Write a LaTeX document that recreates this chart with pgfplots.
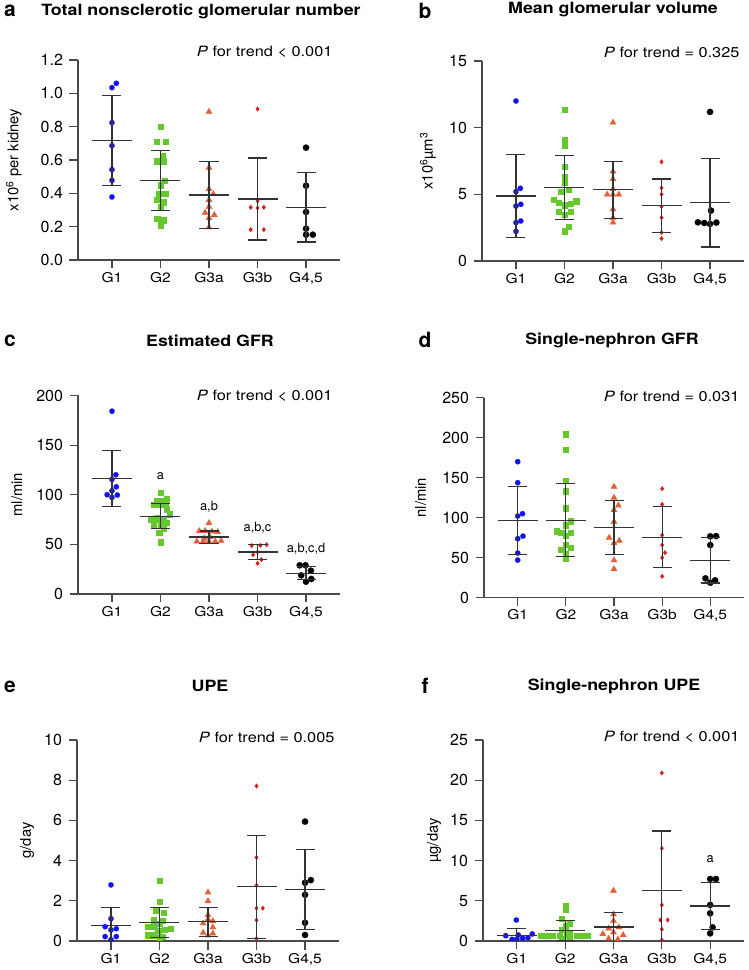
\documentclass[border=0pt]{standalone}
\usepackage{pgfplots}
\usepackage{pgfplotstable}
\pgfplotsset{compat=1.18}
\usepackage{fontspec}
\setmainfont{TeX Gyre Heros}
\newfontfamily\wfont[FakeStretch=1.15]{TeX Gyre Heros}

\definecolor{cB}{HTML}{1212EE}
\definecolor{cG}{HTML}{66C72E}
\definecolor{cO}{HTML}{E0603A}
\definecolor{cR}{HTML}{D81B1B}
\definecolor{cK}{HTML}{000000}
\definecolor{axc}{HTML}{4A4A4A}

\pgfplotsset{
  panel/.style={
    scale only axis, width=262pt, height=200pt, xmin=0.3, xmax=5.7,
    axis lines=left, axis line style={-, axc, line width=1.2pt},
    xtick={1,2,3,4,5}, xticklabels={G1,G2,G3a,G3b,{G4,5}},
    tick align=outside, major tick length=8.5pt, tick style={axc, line width=1.2pt},
    minor tick num=0,
    yticklabel style={font=\fontsize{16}{18}\selectfont, xshift=-3pt},
    xticklabel style={font=\wfont\fontsize{13.5}{15}\selectfont},
    ylabel style={font=\fontsize{14.8}{17}\selectfont, anchor=center},
    clip marker paths=true,
    /pgf/number format/assume math mode=true,
  },
  gA/.style={only marks, mark=*, mark size=2.7pt, mark options={draw=cB, fill=cB, line width=0.1pt}},
  gB/.style={only marks, mark=square*, mark size=2.6pt, mark options={draw=cG, fill=cG, line width=0.1pt}},
  gC/.style={only marks, mark=triangle*, mark size=3.7pt, mark options={draw=cO, fill=cO, line width=0.1pt}},
  gD/.style={only marks, mark=diamond*, mark size=2.4pt, mark options={draw=cR, fill=cR, line width=0.1pt}},
  gE/.style={only marks, mark=*, mark size=3.2pt, mark options={draw=cK, fill=cK, line width=0.1pt}},
  sdbar/.style={black!80, only marks, mark=-, mark size=20pt, mark options={line width=1.1pt, black!80},
    error bars/.cd, y dir=both, y explicit, error bar style={line width=1.1pt, black!80},
    error mark options={rotate=90, mark size=9.5pt, line width=1.1pt, black!80}},
}

\pgfplotstableread{
x m s
1 0.716 0.270
2 0.476 0.181
3 0.390 0.202
4 0.366 0.246
5 0.316 0.208
}\sdA
\pgfplotstableread{
x m s
1 4.875 3.085
2 5.48 2.40
3 5.35 2.14
4 4.13 2.02
5 4.38 3.33
}\sdB
\pgfplotstableread{
x m s
1 116.4 28.5
2 78.5 12.9
3 57.4 6.1
4 42.3 7.4
5 21.1 6.4
}\sdC
\pgfplotstableread{
x m s
1 96.7 42.7
2 96.7 45.6
3 87.5 34.0
4 75.8 38.5
5 46.7 28.3
}\sdD
\pgfplotstableread{
x m s
1 0.78 0.88
2 0.93 0.74
3 0.96 0.72
4 2.70 2.56
5 2.57 1.99
}\sdE
\pgfplotstableread{
x m s
1 0.70 0.83
2 1.29 1.29
3 1.74 1.82
4 6.26 7.42
5 4.35 2.95
}\sdF

\begin{document}
\begin{tikzpicture}
\path[use as bounding box] (0pt,0pt) rectangle (748pt,970pt);

% ---------------- panel a
\begin{axis}[panel, at={(78pt,710pt)}, anchor=south west,
  ymin=0, ymax=1.2, ytick={0,0.2,0.4,0.6,0.8,1.0,1.2},
  yticklabel style={/pgf/number format/.cd, fixed, fixed zerofill, precision=1},
  ylabel={x10\textsuperscript{6} per kidney},
  ylabel style={at={(axis description cs:-0.245,0.5)}}]
\addplot[gA] coordinates {(1,1.034) (1.09,1.06) (1,0.824) (1,0.686) (1,0.542) (1,0.478) (1,0.378)};
\addplot[gB] coordinates {(2,0.80) (1.92,0.712) (2.1,0.712) (1.92,0.594) (2.06,0.594) (2.05,0.626) (2.08,0.478) (2,0.45) (2.11,0.40) (1.97,0.40) (1.93,0.364) (2.06,0.348) (2,0.318) (1.93,0.248) (2.07,0.24) (2,0.21)};
\addplot[gC] coordinates {(3,0.89) (3,0.554) (3,0.426) (3.09,0.396) (3,0.36) (3,0.32) (2.92,0.284) (3.11,0.27) (3,0.252) (3,0.196)};
\addplot[gD] coordinates {(4,0.906) (4,0.354) (3.86,0.316) (4,0.312) (4.13,0.316) (3.86,0.182) (4.13,0.182)};
\addplot[gE] coordinates {(5,0.674) (5,0.446) (5,0.288) (5,0.188) (5,0.152) (5.14,0.152)};
\addplot[sdbar] table[x=x, y=m, y error=s] {\sdA};
\end{axis}

% ---------------- panel b
\begin{axis}[panel, at={(482pt,709pt)}, anchor=south west,
  ymin=0, ymax=15, ytick={0,5,10,15},
  ylabel={x10\textsuperscript{6}µm\textsuperscript{3}},
  ylabel style={at={(axis description cs:-0.206,0.5)}}]
\addplot[gA] coordinates {(1,12.0) (1.09,5.45) (1,5.2) (1.1,4.25) (1,4.12) (1.1,3.0) (1,2.88) (1,2.22)};
\addplot[gB] coordinates {(2,11.33) (2,9.12) (2,8.68) (2,7.08) (2,6.33) (2,5.88) (2.08,5.38) (1.93,5.2) (1.77,4.63) (2.24,4.5) (1.88,4.38) (2.12,4.33) (2,4.2) (1.88,3.7) (2.12,3.7) (2,3.5) (2.08,2.58) (2,2.25)};
\addplot[gC] coordinates {(3,10.38) (3,6.72) (3,6.15) (3,5.4) (2.88,4.98) (3,4.98) (3.12,4.98) (3,3.88) (3,3.25) (3,2.88)};
\addplot[gD] coordinates {(4,7.43) (4,5.48) (4,5.0) (4,4.08) (4,3.25) (4,2.13) (4,1.68)};
\addplot[gE] coordinates {(5,11.18) (5.02,3.78) (4.75,2.9) (4.88,2.85) (5,2.78) (5.13,2.88)};
\addplot[sdbar] table[x=x, y=m, y error=s] {\sdB};
\end{axis}

% ---------------- panel c
\begin{axis}[panel, at={(78pt,376pt)}, anchor=south west, height=198.5pt,
  ymin=0, ymax=200, ytick={0,50,100,150,200},
  ylabel={ml/min},
  ylabel style={at={(axis description cs:-0.233,0.5)}}]
\addplot[gA] coordinates {(1,184.2) (1.08,120.1) (1,115.4) (1.09,108) (1,104) (0.9,100) (1.11,99.7) (1,97.3)};
\addplot[gB] coordinates {(2,102.3) (2.12,96) (1.92,94) (2.02,94) (1.86,90) (1.97,90) (2.11,90) (2.12,85.5) (2.18,80.5) (1.92,77) (1.8,75) (1.92,75) (2.06,75) (2.12,72) (1.86,70) (2,70) (2.06,66) (1.97,62) (2,52.3)};
\addplot[gC] coordinates {(3,71.5) (2.8,63.5) (2.92,63.5) (3.06,63) (3.18,62.5) (3.02,57.5) (2.9,56) (2.75,53) (2.88,53) (3.0,53) (3.13,53) (3.25,53.5)};
\addplot[gD] coordinates {(3.88,48.7) (4.06,49) (4.19,49.7) (4,42.3) (3.91,39.6) (4.08,34.6) (4,30.9)};
\addplot[gE] coordinates {(4.87,28.9) (4.99,28.9) (5.1,23.5) (4.9,18.8) (5.11,15.1) (5,12.4)};
\addplot[sdbar] table[x=x, y=m, y error=s] {\sdC};
\node[font=\fontsize{12.8}{15}\selectfont] at (axis cs:2,118.5) {a};
\node[font=\fontsize{12.8}{15}\selectfont] at (axis cs:3,88.3) {a,b};
\node[font=\fontsize{12.8}{15}\selectfont] at (axis cs:4,66.4) {a,b,c};
\node[font=\fontsize{12.8}{15}\selectfont] at (axis cs:5,45.3) {a,b,c,d};
\end{axis}

% ---------------- panel d
\begin{axis}[panel, at={(484pt,372.3pt)}, anchor=south west, width=260pt,
  ymin=0, ymax=250, ytick={0,50,100,150,200,250},
  ylabel={nl/min},
  ylabel style={at={(axis description cs:-0.244,0.5)}}]
\addplot[gA] coordinates {(1,170) (1,143.75) (1.1,105) (1,102) (1.11,77) (1,73.75) (1,55.8) (1,47)};
\addplot[gB] coordinates {(2,204.6) (2,185.4) (2,146.25) (2,133.3) (2,112) (2.09,95.8) (2,90.8) (1.8,83.3) (1.9,81.25) (2.09,81.25) (2,78) (2,66.7) (2.09,62.9) (1.9,60.4) (2,54.6) (2,48.75)};
\addplot[gC] coordinates {(3,138.75) (3,125) (3.09,115.4) (3,109.6) (3,95) (2.9,75) (3.11,71.25) (3,68.3) (3,46.7) (3,35.8)};
\addplot[gD] coordinates {(4,136.25) (4,116.7) (4,78.3) (4,65.8) (4.06,56.25) (4,50) (4,26.7)};
\addplot[gE] coordinates {(5,76.7) (5.12,77) (5,65.8) (4.9,24.2) (5.1,21.7) (5,18.75)};
\addplot[sdbar] table[x=x, y=m, y error=s] {\sdD};
\end{axis}

% ---------------- panel e
\begin{axis}[panel, at={(77pt,29pt)}, anchor=south west, height=201pt,
  ymin=0, ymax=10, ytick={0,2,4,6,8,10},
  ylabel={g/day},
  ylabel style={at={(axis description cs:-0.19,0.5)}}]
\addplot[gA] coordinates {(1,2.79) (1,1.11) (0.88,0.71) (1.11,0.61) (1,0.55) (0.88,0.22) (1.11,0.22) (1,0.06)};
\addplot[gB] coordinates {(2,3.0) (2,1.96) (1.92,1.51) (2.09,1.43) (1.88,1.04) (2.07,1.0) (2,0.88) (1.76,0.71) (1.89,0.71) (2.23,0.63) (2.1,0.56) (1.97,0.51) (1.76,0.3) (1.89,0.3) (2.07,0.23) (2,0.17)};
\addplot[gC] coordinates {(3,2.42) (3,1.99) (3,1.29) (3,1.08) (3.1,0.99) (2.9,0.88) (3.1,0.68) (2.9,0.41) (3.1,0.38) (3,0.27)};
\addplot[gD] coordinates {(4,7.71) (4,4.16) (4,2.77) (4,1.63) (4.13,1.63) (4,1.04) (4,0.12)};
\addplot[gE] coordinates {(5,5.94) (5.12,3.03) (5,2.9) (5,2.3) (5,0.91) (5,0.3)};
\addplot[sdbar] table[x=x, y=m, y error=s] {\sdE};
\end{axis}

% ---------------- panel f
\begin{axis}[panel, at={(483pt,29pt)}, anchor=south west, height=201pt, width=261pt,
  ymin=0, ymax=25, ytick={0,5,10,15,20,25},
  ylabel={µg/day},
  ylabel style={at={(axis description cs:-0.187,0.5)}}]
\addplot[gA] coordinates {(0.99,2.61) (1.32,0.87) (1.03,0.75) (0.77,0.66) (0.9,0.2) (1.0,0.25) (1.12,0.33) (1.23,0.41)};
\addplot[gB] coordinates {(2,4.39) (2,3.94) (1.92,2.82) (2.09,2.2) (2,1.87) (1.92,1.45) (2.08,0.95) (1.5,0.7) (1.62,0.7) (1.74,0.7) (1.88,0.7) (2.03,0.66) (2.24,0.66) (2.34,0.66) (2.46,0.66) (1.92,0.3) (2.09,0.15)};
\addplot[gC] coordinates {(3,6.26) (3,3.32) (3,2.5) (3.11,1.7) (2.9,1.55) (3,1.08) (2.78,0.87) (3.2,0.75) (2.9,0.3) (3.09,0.2)};
\addplot[gD] coordinates {(4,20.9) (4,11.53) (4,4.48) (3.97,2.61) (4.12,2.61) (4,1.45) (4,0.12)};
\addplot[gE] coordinates {(5,7.71) (5.12,7.71) (5,4.48) (5,3.44) (5.05,1.7) (5,0.95)};
\addplot[sdbar] table[x=x, y=m, y error=s] {\sdF};
\node[font=\fontsize{12.8}{15}\selectfont] at (axis cs:5,10.16) {a};
\end{axis}

% ---------------- titles, letters, P values
\begin{scope}[font=\wfont\fontsize{15.5}{18}\selectfont\bfseries]
\node at (201pt,959pt) {Total nonsclerotic glomerular number};
\node at (613pt,960pt) {Mean glomerular volume};
\node at (210pt,629pt) {Estimated GFR};
\node at (612pt,630pt) {Single-nephron GFR};
\node at (210pt,284pt) {UPE};
\node at (614pt,284pt) {Single-nephron UPE};
\end{scope}
\begin{scope}[font=\fontsize{21}{23}\selectfont\bfseries]
\node at (10pt,959pt) {a};
\node at (425pt,959pt) {b};
\node at (10pt,629pt) {c};
\node at (425pt,630pt) {d};
\node at (10pt,283pt) {e};
\node at (425pt,284pt) {f};
\end{scope}
\begin{scope}[font=\wfont\fontsize{14.2}{17}\selectfont]
\node[anchor=east] at (336pt,918pt) {\textit{P} for trend < 0.001};
\node[anchor=east] at (743pt,918pt) {\textit{P} for trend = 0.325};
\node[anchor=east] at (336pt,574pt) {\textit{P} for trend < 0.001};
\node[anchor=east] at (743pt,574pt) {\textit{P} for trend = 0.031};
\node[anchor=east] at (338pt,233pt) {\textit{P} for trend = 0.005};
\node[anchor=east] at (743pt,233pt) {\textit{P} for trend < 0.001};
\end{scope}
\end{tikzpicture}
\end{document}
